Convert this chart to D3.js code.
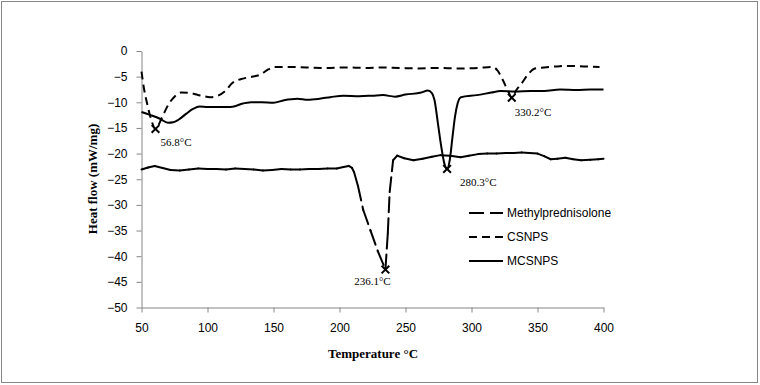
<!DOCTYPE html>
<html>
<head>
<meta charset="utf-8">
<script src="https://cdnjs.cloudflare.com/ajax/libs/d3/7.8.5/d3.min.js"></script>
<style>
  body { margin: 0; background: #fff; }
  .tick text { font-family: "Liberation Sans", Arial, sans-serif; font-size: 12px; fill: #000; }
  .axisTitle { font-family: "Liberation Serif", "Times New Roman", serif; font-size: 13px; font-weight: bold; }
  .peakLabel { font-family: "Liberation Serif", "Times New Roman", serif; font-size: 11px; }
  .legendText { font-family: "Liberation Sans", Arial, sans-serif; font-size: 12px; }
</style>
</head>
<body>
<div id="chart"></div>
<script>
// Values
var seriesNames = ["Methylprednisolone", "CSNPS", "MCSNPS"];

var methylTemp = [50, 55, 60, 66, 72, 79, 86, 93, 100, 107, 114, 121, 128, 135, 142, 149, 156, 163, 170, 177,
  184, 191, 198, 203, 207, 209.5, 211, 214, 218, 223.5, 229, 234.8, 236.6, 238, 240.6, 243.7, 249, 256, 263, 270,
  276.5, 284, 291.7, 298, 305, 312, 319, 326, 332, 338, 344, 350, 355, 360, 365, 371, 377, 383, 390, 396, 400];
var methylFlow = [-23.1, -22.7, -22.4, -22.8, -23.2, -23.3, -23.1, -22.9, -23.0, -23.0, -23.1, -22.9, -23.0, -23.1, -23.3, -23.2, -23.0, -23.1, -23.1, -23.0,
  -23.0, -22.9, -22.9, -22.6, -22.4, -22.8, -23.6, -26.3, -31.0, -35.0, -39.0, -42.6, -35.5, -27.5, -21.3, -20.4, -20.9, -21.3, -21.0, -20.6,
  -20.3, -20.4, -20.7, -20.4, -20.1, -20.0, -20.0, -19.9, -19.9, -19.8, -19.9, -20.0, -20.5, -21.1, -21.0, -20.8, -21.1, -21.3, -21.2, -21.1, -21.0];

var csnpsTemp = [50, 52, 54.3, 57.5, 60.6, 65.6, 70.7, 75, 80, 87, 95, 102, 108, 113, 119, 125, 132, 140, 146, 151,
  160, 175, 190, 205, 220, 231, 245, 260, 275, 290, 305, 316, 320, 324, 328, 330.5, 334, 338, 343, 348,
  355, 365, 373, 385, 397];
var csnpsFlow = [-4.0, -7.5, -10.3, -13.5, -15.2, -12.9, -10.3, -8.9, -8.1, -8.2, -8.7, -9.0, -8.7, -7.9, -6.2, -5.5, -5.1, -4.6, -3.6, -3.1,
  -3.1, -3.2, -3.3, -3.2, -3.3, -3.2, -3.3, -3.4, -3.3, -3.4, -3.3, -3.1, -3.9, -5.8, -8.0, -9.1, -7.6, -6.3, -4.5, -3.4,
  -3.2, -3.0, -2.9, -3.0, -3.1];

var mcsnpsTemp = [50, 57, 64, 70, 74, 78, 84, 89, 94, 100, 108, 115, 120, 126, 133, 141, 150, 158, 168, 176,
  185, 193, 203, 215, 225, 233, 242, 250, 262, 267, 270, 272, 274.5, 277, 279.5, 281.5, 283.5, 285.5, 287.5, 289.5,
  292, 304, 315, 322, 333, 345, 355, 367, 380, 390, 400];
var mcsnpsFlow = [-11.9, -12.5, -13.2, -14.0, -13.9, -13.4, -12.2, -11.3, -10.8, -10.9, -10.9, -10.9, -10.8, -10.3, -10.0, -10.0, -10.1, -9.6, -9.3, -9.5,
  -9.3, -9.0, -8.7, -8.8, -8.7, -8.6, -8.9, -8.5, -8.1, -7.7, -8.2, -9.6, -14.0, -18.5, -22.0, -23.0, -21.3, -17.0, -12.8, -10.2,
  -9.0, -8.6, -8.1, -7.8, -7.9, -7.8, -7.8, -7.5, -7.6, -7.5, -7.5];

// Peak markers
var peakTemp = [60.6, 330.5, 281.5, 234.8];
var peakFlow = [-15.2, -9.1, -23.0, -42.6];
var peakLabels = ["56.8°C", "330.2°C", "280.3°C", "236.1°C"];

var xTicks = [50, 100, 150, 200, 250, 300, 350, 400];
var yTicks = [-50, -45, -40, -35, -30, -25, -20, -15, -10, -5, 0];

var svgWidth = 760;
var svgHeight = 385;

var svg = d3.select("#chart")
  .append("svg")
  .attr("width", svgWidth)
  .attr("height", svgHeight);

// outer frame
svg.append("rect")
  .attr("x", 1.5).attr("y", 1.5)
  .attr("width", 756).attr("height", 381)
  .attr("fill", "#fff")
  .attr("stroke", "#868686");

var xScale = d3.scaleLinear().domain([50, 400]).range([141.5, 603.5]);
var yScale = d3.scaleLinear().domain([-50, 0]).range([307.5, 51]);

// axes
svg.append("g")
  .attr("transform", "translate(0, 307.5)")
  .call(d3.axisBottom(xScale).tickValues(xTicks).tickSize(5).tickSizeOuter(0).tickPadding(11));

svg.append("g")
  .attr("transform", "translate(141.5, 0)")
  .call(d3.axisLeft(yScale).tickValues(yTicks).tickSize(5).tickSizeOuter(0).tickPadding(9));

svg.selectAll(".domain, .tick line").attr("stroke", "#868686");

function pts(t, f) {
  return t.map(function(d, i) { return [d, f[i]]; });
}

var line = d3.line()
  .x(d => xScale(d[0]))
  .y(d => yScale(d[1]));

var smoothLine = d3.line()
  .curve(d3.curveMonotoneX)
  .x(d => xScale(d[0]))
  .y(d => yScale(d[1]));

// CSNPS - short dashes along the whole curve
svg.append("path")
  .datum(pts(csnpsTemp, csnpsFlow))
  .attr("d", smoothLine)
  .attr("fill", "none")
  .attr("stroke", "#000")
  .attr("stroke-width", 2)
  .attr("stroke-dasharray", "8,5");

// MCSNPS - solid
svg.append("path")
  .datum(pts(mcsnpsTemp, mcsnpsFlow))
  .attr("d", smoothLine)
  .attr("fill", "none")
  .attr("stroke", "#000")
  .attr("stroke-width", 2)
  .attr("stroke-linejoin", "round");

// Methylprednisolone - long dash, drawn per segment (dashes only show on the long steep parts)
var methylPts = pts(methylTemp, methylFlow);
svg.append("g").selectAll("path")
  .data(d3.pairs(methylPts))
  .enter()
  .append("path")
  .attr("d", d => line(d))
  .attr("fill", "none")
  .attr("stroke", "#000")
  .attr("stroke-width", 2)
  .attr("stroke-linecap", "round")
  .attr("stroke-dasharray", "15,6");

// peak markers + labels
var labelDx = [5, 3, 13, -13];
var labelDy = [17, 18, 17, 15];
var labelAnchor = ["start", "start", "start", "middle"];

svg.selectAll(".peak")
  .data(peakTemp)
  .enter()
  .append("path")
  .attr("class", "peak")
  .attr("transform", (d, i) => `translate(${xScale(d)}, ${yScale(peakFlow[i])})`)
  .attr("d", d3.symbol(d3.symbolX, 40))
  .attr("fill", "none")
  .attr("stroke", "#000")
  .attr("stroke-width", 2);

svg.selectAll(".peakLabel")
  .data(peakLabels)
  .enter()
  .append("text")
  .attr("class", "peakLabel")
  .attr("x", (d, i) => xScale(peakTemp[i]) + labelDx[i])
  .attr("y", (d, i) => yScale(peakFlow[i]) + labelDy[i])
  .attr("text-anchor", (d, i) => labelAnchor[i])
  .text(d => d);

// axis titles
svg.append("text")
  .attr("class", "axisTitle")
  .attr("transform", "translate(97, 179) rotate(-90)")
  .attr("text-anchor", "middle")
  .text("Heat flow (mW/mg)");

svg.append("text")
  .attr("class", "axisTitle")
  .attr("x", 373)
  .attr("y", 358)
  .attr("text-anchor", "middle")
  .text("Temperature °C");

// legend
var legendDash = ["15,6", "8,5", null];
var legend = svg.append("g");
seriesNames.forEach(function(name, i) {
  var y = 213 + i * 24;
  legend.append("line")
    .attr("x1", 469).attr("x2", 503)
    .attr("y1", y).attr("y2", y)
    .attr("stroke", "#000")
    .attr("stroke-width", 2)
    .attr("stroke-dasharray", legendDash[i]);
  legend.append("text")
    .attr("class", "legendText")
    .attr("x", 507)
    .attr("y", y)
    .attr("dy", "0.35em")
    .text(name);
});
</script>
</body>
</html>
